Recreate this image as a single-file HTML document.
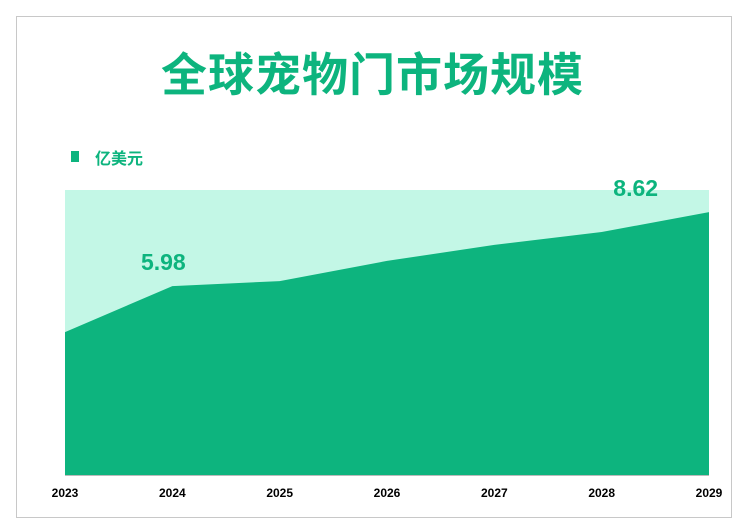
<!DOCTYPE html>
<html><head><meta charset="utf-8"><style>
body{margin:0;background:#fff;width:737px;height:526px;overflow:hidden;font-family:"Liberation Sans","Noto Sans CJK SC",sans-serif}
#frame{position:absolute;left:16px;top:16px;width:716px;height:502px;border:1px solid #c8c8c8;box-sizing:border-box}
#title{position:absolute;left:0;width:745px;top:47px;text-align:center;font-size:46px;line-height:56px;font-weight:bold;color:#0db47e;letter-spacing:1px}
</style></head><body>
<div id="frame"></div>
<div id="title">全球宠物门市场规模</div>
<svg id="chart" width="737" height="526" style="position:absolute;left:0;top:0"></svg>
<script>
const categories=["2023","2024","2025","2026","2027","2028","2029"];
const values=[4.34,5.98,6.16,6.88,7.45,7.91,8.62];
const labeledIdx=[1,6];
const yMin=-0.76, yMax=9.41;
const L=65,R=709,T=190,B=475;
const NS="http://www.w3.org/2000/svg";
const svg=document.getElementById('chart');
function x(i){return L+(R-L)*i/(categories.length-1);}
function y(v){return B-(B-T)*(v-yMin)/(yMax-yMin);}
function mk(t,a){const e=document.createElementNS(NS,t);for(const k in a)e.setAttribute(k,a[k]);svg.appendChild(e);return e;}
const bg=mk('rect',{x:L,y:T,width:R-L,height:B-T,fill:'#c3f7e6'});


let d=`M${x(0)},${B}`;values.forEach((v,i)=>{d+=` L${x(i)},${y(v)}`;});d+=` L${x(values.length-1)},${B} Z`;
const area=mk('path',{d:d,fill:'#0db47e'});


const ax=mk('line',{x1:L,x2:R,y1:B+0.5,y2:B+0.5,stroke:'#bbb','stroke-width':1});


categories.forEach((c,i)=>{const t=mk('text',{x:x(i),y:497,'text-anchor':'middle','font-size':12,'font-weight':'bold',fill:'#000'});t.textContent=c;

});
const lblX={1:x(1)-9,6:x(5)+34};
labeledIdx.forEach(i=>{const t=mk('text',{x:lblX[i],y:y(values[i])-16,'text-anchor':'middle','font-size':23,'font-weight':'bold',fill:'#0db47e'});t.textContent=values[i].toFixed(2);

});
const lg=mk('rect',{x:71,y:151,width:8,height:11,fill:'#0db47e'});


const lt=mk('text',{x:95,y:164,'font-size':16,'font-weight':'bold',fill:'#0db47e'});lt.textContent='亿美元';


</script>
</body></html>
